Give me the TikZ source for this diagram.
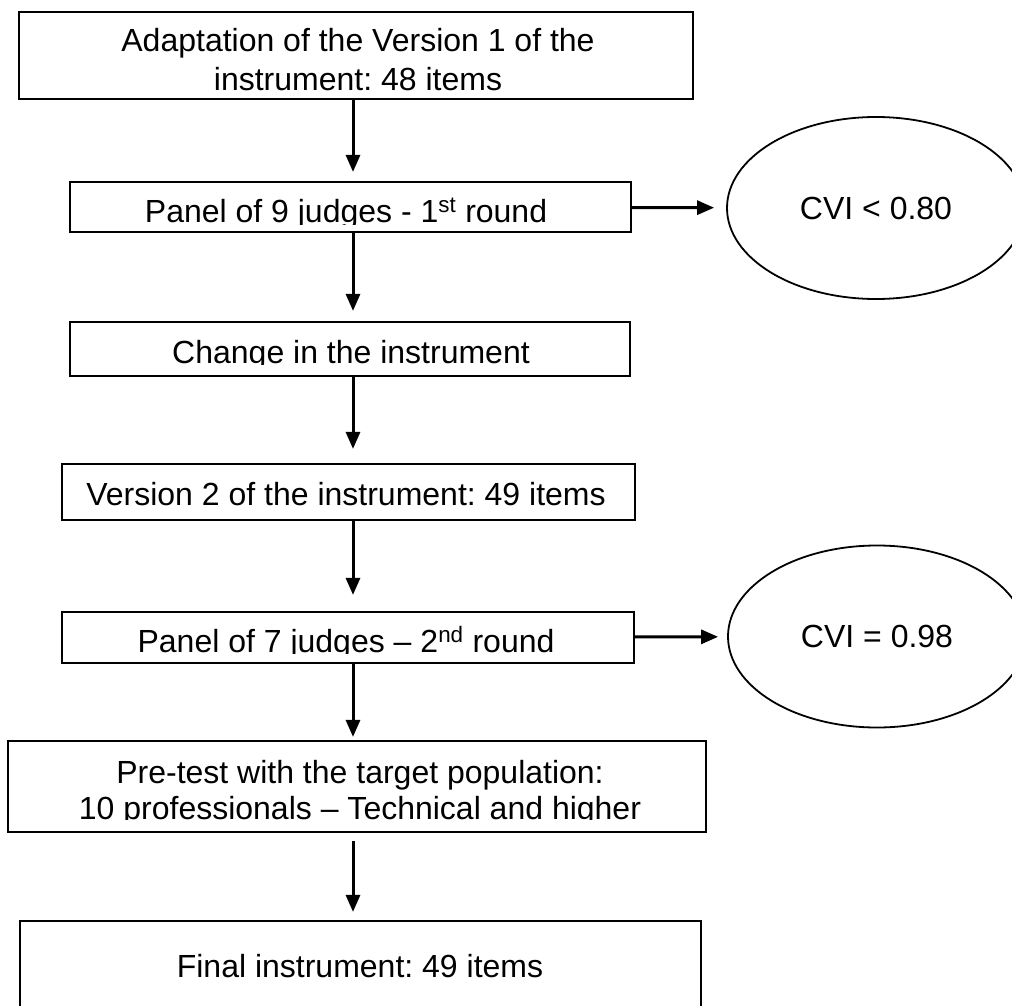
\documentclass[tikz,border=0pt]{standalone}
\usepackage{fontspec}
\setmainfont{Liberation Sans}
\frenchspacing
\usetikzlibrary{arrows.meta,positioning,shapes.geometric}

\tikzset{
  blk/.style={draw, rectangle, line width=2.2pt, inner sep=0pt},
  txt/.style={inner sep=0pt, align=center, font=\fontsize{32}{39}\selectfont},
  oval/.style={draw, ellipse, line width=1.8pt, inner sep=0pt,
    minimum width=298pt, minimum height=182pt, font=\fontsize{32}{39}\selectfont},
}

\begin{document}
\begin{tikzpicture}[x=1pt,y=-1pt,->,>={Triangle[length=17pt,width=14pt]},line width=3pt]

  \useasboundingbox (0,0) rectangle (1012,1006);
  \coordinate (ax) at (353,0);

  % boxes of the main column
  \node[blk, minimum width=674pt, minimum height=87pt] (b1) at (356,55.5) {};
  \node[blk, minimum width=561pt, minimum height=50pt] (b2) at (350.5,207) {};
  \node[blk, minimum width=560pt, minimum height=54pt] (b3) at (350,349) {};
  \node[blk, minimum width=573pt, minimum height=56pt] (b4) at (348.5,492) {};
  \node[blk, minimum width=572pt, minimum height=51pt] (b5) at (348,637.5) {};
  \node[blk, minimum width=698pt, minimum height=91pt] (b6) at (357,786.5) {};
  \node[blk, minimum width=681pt, minimum height=89pt] (b7) at (360.5,965.5) {};

  % texts (some cut at the baseline)
  \node[txt, anchor=north] (t1) at (358,26.6) {Adaptation of the Version 1 of the\\instrument: 48 items};
  \begin{scope}
    \clip (b2.north west) rectangle (631,224);
    \node[txt, anchor=base] (t2) at (346,222) {Panel of 9 judges - 1\textsuperscript{st} round};
  \end{scope}
  \begin{scope}
    \clip (b3.north west) rectangle (630,364);
    \node[txt, anchor=base] (t3) at (351,363) {Change in the instrument};
  \end{scope}
  \node[txt, anchor=base] (t4) at (346,505) {Version 2 of the instrument: 49 items};
  \begin{scope}
    \clip (b5.north west) rectangle (634,653);
    \node[txt, anchor=base] (t5) at (346,652) {Panel of 7 judges -- 2\textsuperscript{nd} round};
  \end{scope}
  \begin{scope}
    \clip (b6.north west) rectangle (706,819);
    \node[txt, anchor=north, font=\fontsize{32}{36}\selectfont] (t6) at (360,758.6)
      {Pre-test with the target population:\\10 professionals -- Technical and higher};
  \end{scope}
  \node[txt, anchor=base] (t7) at (360,977) {Final instrument: 49 items};

  % results
  \node[oval] (e1) at (876,208) {CVI < 0.80};
  \node[oval] (e2) at (877,636.5) {CVI = 0.98};

  \path
    (b1.south -| ax) edge [shorten >=9pt] (b2.north -| ax)
    (b2.south -| ax) edge [shorten >=10pt] (b3.north -| ax)
    (b3.south -| ax) edge [shorten >=14pt] (b4.north -| ax)
    (b4.south -| ax) edge [shorten >=16pt] (b5.north -| ax)
    (b5.south -| ax) edge [shorten >=3pt] (b6.north -| ax)
    (b6.south -| ax) edge [shorten <=8pt, shorten >=8pt] (b7.north -| ax)
    (b2) edge [shorten >=12pt] (e1)
    (b5) edge [shorten >=9pt] (e2);

\end{tikzpicture}
\end{document}
